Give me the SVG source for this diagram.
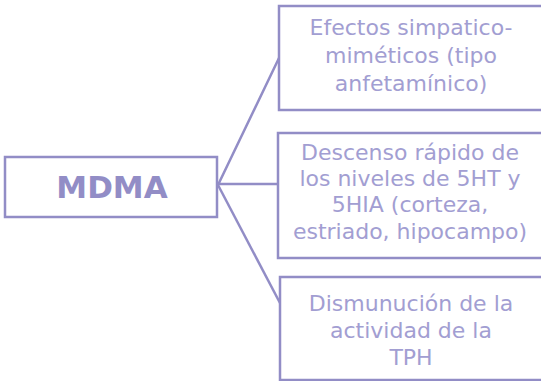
<svg xmlns="http://www.w3.org/2000/svg" width="541" height="381" viewBox="0 0 541 381">
<style>
.box{fill:#fff;stroke:#928dc6;stroke-width:2.5}
.con{fill:none;stroke:#928dc6;stroke-width:2.5}
.t{font-family:"DejaVu Sans",sans-serif;font-size:22px;fill:#a29ed2;text-anchor:middle}
.m{font-family:"DejaVu Sans",sans-serif;font-size:31px;font-weight:bold;fill:#928dc6;text-anchor:middle}
</style>
<rect width="541" height="381" fill="#fff"/>
<g id="connectors">
<polyline class="con" points="279,58 218,185 218,184 279,184"/>
<line class="con" x1="218" y1="185" x2="280" y2="303"/>
</g>
<g id="mdma">
<rect class="box" x="5" y="157" width="212" height="60"/>
<text class="m" x="112" y="198">MDMA</text>
</g>
<g id="n1">
<rect class="box" x="279" y="6" width="290" height="104"/>
<text class="t" x="411" y="35">Efectos simpatico-</text>
<text class="t" x="411" y="63">miméticos (tipo</text>
<text class="t" x="411" y="91">anfetamínico)</text>
</g>
<g id="n2">
<rect class="box" x="278" y="133" width="290" height="125"/>
<text class="t" x="410" y="160">Descenso rápido de</text>
<text class="t" x="410" y="186">los niveles de 5HT y</text>
<text class="t" x="410" y="212">5HIA (corteza,</text>
<text class="t" x="410" y="239">estriado, hipocampo)</text>
</g>
<g id="n3">
<rect class="box" x="280" y="277" width="290" height="103"/>
<text class="t" x="411" y="311">Dismunución de la</text>
<text class="t" x="411" y="338">actividad de la</text>
<text class="t" x="411" y="365">TPH</text>
</g>
</svg>
